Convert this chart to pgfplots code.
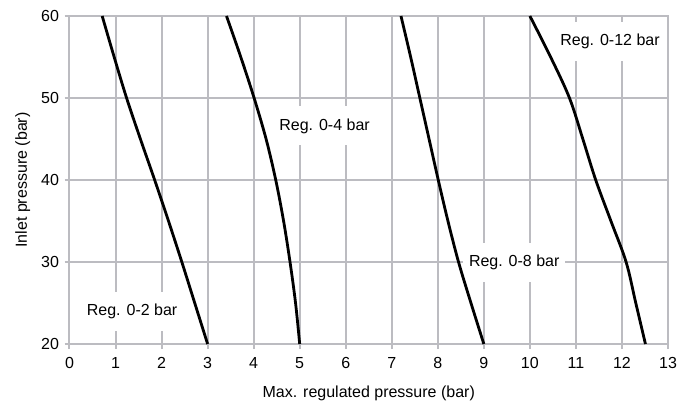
\documentclass[border=0pt]{standalone}
\usepackage{pgfplots}
\pgfplotsset{compat=1.18}
\usepackage{fontspec}
\setmainfont{Liberation Sans}
\usetikzlibrary{calc}
\definecolor{gridc}{RGB}{188,188,193}
\tikzset{lbl/.style={fill=white, inner xsep=6bp, inner ysep=12bp, font=\fontsize{16bp}{19bp}\selectfont},
  crv/.style={black, line width=2.8bp, smooth, tension=0.55, no marks}}
\begin{document}
\fontsize{16bp}{19bp}\selectfont
\begin{tikzpicture}
\begin{axis}[
  name=ax,
  scale only axis,
  width=598.5bp, height=328bp,
  xmin=0, xmax=13, ymin=20, ymax=60,
  xtick={0,...,13}, ytick={20,30,40,50,60},
  grid=major,
  grid style={gridc, line width=2bp},
  major grid style={gridc, line width=2bp},
  axis line style={gridc, line width=2bp},
  tick style={gridc, line width=2bp},
  tick align=outside,
  major tick length=5bp,
  xtick pos=bottom, ytick pos=left,
  /pgf/number format/assume math mode=true,
  ticklabel style={font=\fontsize{16bp}{19bp}\selectfont, text=black},
  xticklabel style={yshift=-3bp},
  label style={font=\fontsize{16bp}{19bp}\selectfont},
  xlabel style={yshift=-6bp},
  xlabel={Max. regulated pressure (bar)},
  ylabel={Inlet pressure (bar)},
  clip=false,
]
\node[lbl] at (axis cs:1.36,24.0) {Reg. 0-2 bar};
\node[lbl] at (axis cs:5.54,46.6) {Reg. 0-4 bar};
\node[lbl] at (axis cs:9.66,29.95) {Reg. 0-8 bar};
\node[lbl] at (axis cs:11.74,56.9) {Reg. 0-12 bar};
\addplot[crv] coordinates {(3.0,20) (2.72,25) (2.44,30) (2.15,35) (1.85,40) (1.54,45) (1.24,50) (0.97,55) (0.71,60)};
\addplot[crv] coordinates {(5.0,20) (4.91,25) (4.79,30) (4.65,35) (4.48,40) (4.27,45) (4.01,50) (3.72,55) (3.41,60)};
\addplot[crv] coordinates {(9.0,20) (8.72,25) (8.45,30) (8.22,35) (8.01,40) (7.81,45) (7.61,50) (7.41,55) (7.20,60)};
\addplot[crv] coordinates {(12.51,20) (12.30,25) (12.09,30) (11.76,35) (11.43,40) (11.15,45) (10.86,50) (10.45,55) (10.0,60)};
\end{axis}
\pgfresetboundingbox
\path ($(ax.south west)+(-69.5bp,-59bp)$) rectangle ($(ax.north east)+(11bp,16bp)$);
\end{tikzpicture}
\end{document}
